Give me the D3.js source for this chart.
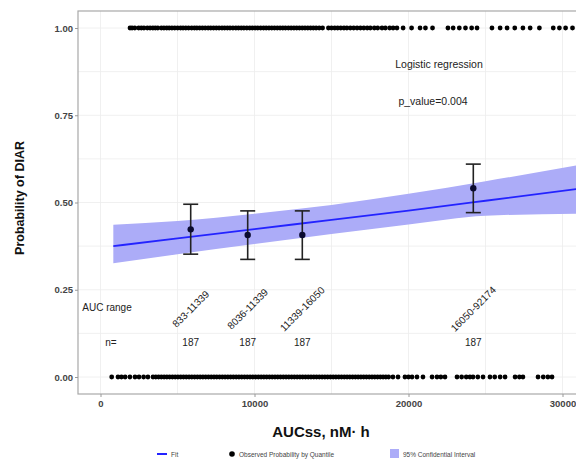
<!DOCTYPE html>
<html>
<head>
<meta charset="utf-8">
<script src="https://cdn.jsdelivr.net/npm/d3@7"></script>
<style>
  body { margin: 0; background: #fff; }
  svg { font-family: "Liberation Sans", Arial, sans-serif; }
</style>
</head>
<body>
<svg id="chart" width="576" height="460"></svg>
<script>
// observed AUCss values with DIAR = 1 and DIAR = 0
const events = [1916, 2050, 2230, 2480, 2650, 2820, 3040, 3220, 3400, 3560, 3720, 3950, 4120, 4300, 4460, 4640, 4820,
  5010, 5200, 5360, 5540, 5720, 5920, 6100, 6260, 6440, 6620, 6800, 6990, 7160, 7340, 7520, 7700, 7890, 8060, 8240,
  8410, 8600, 8790, 8960, 9140, 9310, 9500, 9690, 9860, 10040, 10210, 10400, 10590, 10760, 10940, 11120, 11300, 11480,
  11660, 11840, 12010, 12200, 12380, 12560, 12740, 12920, 13100, 13280, 13460, 13640, 13820, 14000, 14200, 14420,
  14800, 15000, 15210, 15400, 15600, 15810, 16000, 16220, 16440, 16660, 16880, 17100, 17320, 17520, 17780, 18000,
  18280, 18500, 18780, 19000, 19250, 19650, 20200, 20750, 21100, 21560, 22560, 22900, 23300, 23700, 24100, 24450,
  25420, 25950, 26400, 26900, 27430, 27900, 28500, 29400, 29800, 30200, 30650];
const nonEvents = [727, 1136, 1360, 1600, 1910, 2240, 2500, 2800, 3080, 3410, 3590, 3770, 3950, 4130, 4310, 4490,
  4670, 4850, 5030, 5210, 5390, 5570, 5750, 5930, 6110, 6290, 6470, 6650, 6830, 7010, 7190, 7370, 7550, 7730, 7910,
  8090, 8270, 8450, 8630, 8810, 8990, 9170, 9350, 9530, 9710, 9890, 10070, 10250, 10430, 10610, 10790, 10970, 11150,
  11330, 11510, 11690, 11870, 12050, 12230, 12410, 12590, 12770, 12950, 13130, 13310, 13490, 13670, 13850, 14030,
  14210, 14390, 14570, 14750, 14930, 15110, 15290, 15470, 15650, 15830, 16010, 16190, 16370, 16550, 16730, 16910,
  17090, 17270, 17450, 17630, 17810, 17990, 18170, 18350, 18530, 18710, 18990, 19320, 19770, 20000, 20230, 20550,
  20940, 21530, 21850, 22100, 22370, 23150, 23450, 23750, 23990, 24190, 24500, 24840, 25290, 25600, 25950, 26270,
  26920, 27200, 27430, 28410, 28750, 29050, 29320];

// logistic fit and 95% band read along x
const fitX = [833, 5000, 10000, 15000, 20000, 25000, 31000];
const fitP = [0.375, 0.397, 0.424, 0.450, 0.477, 0.505, 0.539];
const ciLow = [0.326, 0.352, 0.381, 0.410, 0.437, 0.462, 0.468];
const ciHigh = [0.436, 0.447, 0.468, 0.493, 0.525, 0.561, 0.607];

// observed probability by quartile
const quartX = [5857, 9558, 13104, 24208];
const quartP = [0.423, 0.407, 0.407, 0.541];
const quartLow = [0.352, 0.337, 0.337, 0.471];
const quartHigh = [0.495, 0.476, 0.476, 0.610];
const quartLabels = ['833-11339', '8036-11339', '11339-16050', '16050-92174'];
const quartN = ['187', '187', '187', '187'];

const xTicks = [0, 10000, 20000, 30000];
const xGrid = [0, 5000, 10000, 15000, 20000, 25000, 30000];
const yTicks = [0, 0.25, 0.5, 0.75, 1];
const yGrid = [0, 0.125, 0.25, 0.375, 0.5, 0.625, 0.75, 0.875, 1];

const svg = d3.select('#chart');
const panel = { left: 78, right: 600, top: 11, bottom: 394 };

const x = d3.scaleLinear().domain([0, 30000]).range([100.5, 562.5]);
const y = d3.scaleLinear().domain([0, 1]).range([377, 28]);

const bandColor = '#acacf8';
const lineColor = '#2323ff';

svg.append('rect').attr('width', 576).attr('height', 460).attr('fill', '#fff');

// grid
const grid = svg.append('g');
grid.selectAll('.gy').data(yGrid).enter().append('line')
  .attr('x1', panel.left).attr('x2', panel.right)
  .attr('y1', d => y(d)).attr('y2', d => y(d))
  .attr('stroke', '#ececec').attr('stroke-width', 0.8);
grid.selectAll('.gx').data(xGrid).enter().append('line')
  .attr('x1', d => x(d)).attr('x2', d => x(d))
  .attr('y1', panel.top).attr('y2', panel.bottom)
  .attr('stroke', '#ececec').attr('stroke-width', 0.8);

// band + fit line
const fitData = fitX.map((v, i) => ({ x: v, p: fitP[i], lo: ciLow[i], hi: ciHigh[i] }));
svg.append('path').datum(fitData)
  .attr('fill', bandColor)
  .attr('d', d3.area().curve(d3.curveMonotoneX).x(d => x(d.x)).y0(d => y(d.lo)).y1(d => y(d.hi)));
svg.append('path').datum(fitData)
  .attr('fill', 'none').attr('stroke', lineColor).attr('stroke-width', 1.8)
  .attr('d', d3.line().curve(d3.curveMonotoneX).x(d => x(d.x)).y(d => y(d.p)));

// observed 0/1 points
svg.append('g').selectAll('circle').data(events).enter().append('circle')
  .attr('cx', d => x(d)).attr('cy', y(1)).attr('r', 2.4).attr('fill', '#000');
svg.append('g').selectAll('circle').data(nonEvents).enter().append('circle')
  .attr('cx', d => x(d)).attr('cy', y(0)).attr('r', 2.4).attr('fill', '#000');

// quartile error bars
const q = svg.append('g');
quartX.forEach((v, i) => {
  const cx = x(v);
  q.append('line').attr('x1', cx).attr('x2', cx)
    .attr('y1', y(quartLow[i])).attr('y2', y(quartHigh[i]))
    .attr('stroke', '#222').attr('stroke-width', 1.6);
  [quartLow[i], quartHigh[i]].forEach(e => {
    q.append('line').attr('x1', cx - 7.5).attr('x2', cx + 7.5)
      .attr('y1', y(e)).attr('y2', y(e))
      .attr('stroke', '#222').attr('stroke-width', 1.6);
  });
  q.append('circle').attr('cx', cx).attr('cy', y(quartP[i])).attr('r', 3.2).attr('fill', '#0a0a30');
});

// annotations
const ann = svg.append('g').attr('font-size', 10).attr('fill', '#222');
ann.append('text').attr('x', 107).attr('y', y(0.198) + 3.5).attr('text-anchor', 'middle').text('AUC range');
ann.append('text').attr('x', 111).attr('y', y(0.10) + 3.5).attr('text-anchor', 'middle').text('n=');
quartX.forEach((v, i) => {
  ann.append('text')
    .attr('transform', `translate(${x(v)},${y(0.195)}) rotate(-45)`)
    .attr('text-anchor', 'middle').attr('dy', 3.5).text(quartLabels[i]);
  ann.append('text').attr('x', x(v)).attr('y', y(0.10) + 3.5)
    .attr('text-anchor', 'middle').text(quartN[i]);
});
ann.append('text').attr('x', 439).attr('y', 68).attr('text-anchor', 'middle').attr('font-size', 10.5)
  .text('Logistic regression');
ann.append('text').attr('x', 433).attr('y', 105).attr('text-anchor', 'middle').attr('font-size', 10.5)
  .text('p_value=0.004');

// panel border
svg.append('rect')
  .attr('x', panel.left).attr('y', panel.top)
  .attr('width', panel.right - panel.left).attr('height', panel.bottom - panel.top)
  .attr('fill', 'none').attr('stroke', '#a8a8a8').attr('stroke-width', 1.2);

// axes
const yAxis = svg.append('g').attr('transform', `translate(${panel.left},0)`)
  .call(d3.axisLeft(y).tickValues(yTicks).tickFormat(d3.format('.2f')).tickSize(3).tickPadding(2));
const xAxis = svg.append('g').attr('transform', `translate(0,${panel.bottom})`)
  .call(d3.axisBottom(x).tickValues(xTicks).tickFormat(d3.format('d')).tickSize(3).tickPadding(3));
[yAxis, xAxis].forEach(a => {
  a.select('.domain').remove();
  a.selectAll('.tick line').attr('stroke', '#999');
  a.selectAll('.tick text').attr('fill', '#444').attr('font-size', 9.5).attr('font-weight', 'bold')
    .attr('font-family', '"Liberation Sans", Arial, sans-serif');
});

// axis titles
svg.append('text')
  .attr('transform', 'translate(24,198) rotate(-90)')
  .attr('text-anchor', 'middle').attr('font-size', 12.5).attr('font-weight', 'bold')
  .attr('fill', '#111').text('Probability of DIAR');
svg.append('text')
  .attr('x', 321).attr('y', 437)
  .attr('text-anchor', 'middle').attr('font-size', 15).attr('font-weight', 'bold')
  .attr('fill', '#111').text('AUCss, nM· h');

// legend
const lg = svg.append('g').attr('font-size', 6.5).attr('fill', '#444');
lg.append('line').attr('x1', 157).attr('x2', 167).attr('y1', 454).attr('y2', 454)
  .attr('stroke', lineColor).attr('stroke-width', 2);
lg.append('text').attr('x', 171).attr('y', 456.5).text('Fit');
lg.append('circle').attr('cx', 232).attr('cy', 454).attr('r', 2.8).attr('fill', '#000');
lg.append('text').attr('x', 239).attr('y', 456.5).text('Observed Probability by Quantile');
lg.append('rect').attr('x', 390).attr('y', 449).attr('width', 9).attr('height', 9).attr('fill', bandColor);
lg.append('text').attr('x', 403).attr('y', 456.5).text('95% Confidential Interval');
</script>
</body>
</html>
